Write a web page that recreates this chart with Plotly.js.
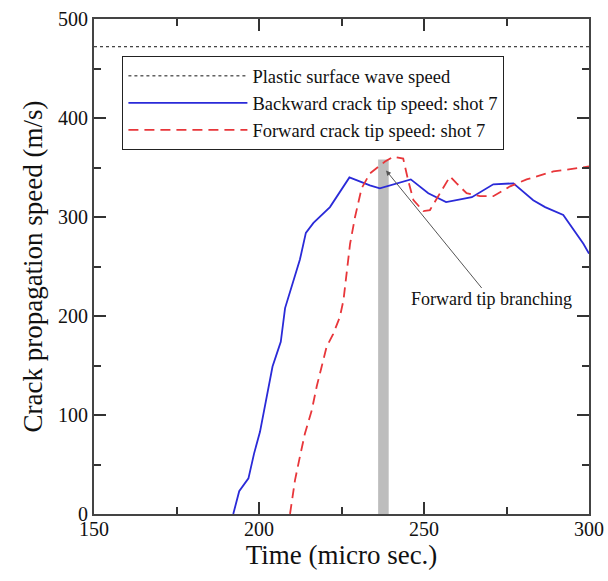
<!DOCTYPE html>
<html>
<head>
<meta charset="utf-8">
<script src="https://cdn.plot.ly/plotly-3.0.1.min.js"></script>
<style>html,body{margin:0;padding:0;background:#fff;}#chart{width:608px;height:581px;}</style>
</head>
<body>
<div id="chart"></div>
<script>
// Plastic surface wave speed (constant)
var waveTime = [150, 300];
var waveSpeed = [472, 472];

// Backward crack tip speed: shot 7
var backTime = [192.2, 194.0, 196.8, 198.5, 200.3, 202.8, 204.1, 205.4, 206.6, 207.9, 210.4, 212.4, 214.2, 216.5, 221.5, 227.4, 233.6, 236.6, 246.0, 251.3, 256.7, 264.5, 271.0, 277.1, 283.1, 286.7, 292.2, 298.3, 300];
var backSpeed = [0, 23, 36, 61, 83, 129, 149, 162, 174, 208, 235, 257, 284, 294, 310, 340, 332, 329, 338, 324, 315, 320, 333, 334, 317, 310, 302, 273, 263];

// Forward crack tip speed: shot 7
var fwdTime = [209.4, 210.9, 212.4, 213.9, 216.0, 217.5, 219.0, 220.5, 222.5, 224.5, 225.6, 226.6, 227.6, 229.1, 231.1, 233.6, 238.2, 240.7, 243.7, 245.2, 246.8, 249.8, 251.8, 254.3, 257.9, 259.9, 262.9, 267.0, 271.0, 276.1, 281.1, 289.2, 294.2, 300];
var fwdSpeed = [0, 34, 58, 81, 105, 129, 149, 169, 182, 199, 216, 246, 273, 300, 329, 344, 356, 361, 359, 337, 317, 306, 307, 321, 341, 334, 324, 321, 321, 331, 338, 346, 348, 351];

// Forward tip branching marker (grey band)
var branchTime = [237.7];
var branchSpeed = [358];
var branchWidth = [3.2];
var branchPoint = {time: 238.5, speed: 347};

// Axis ticks
var xTicks = [150, 200, 250, 300];
var yTicks = [0, 100, 200, 300, 400, 500];

var serif = 'Liberation Serif, Times New Roman, serif';

var traces = [
  {x: branchTime, y: branchSpeed, type: 'bar', width: branchWidth, marker: {color: '#bdbdbd', line: {width: 0}}, showlegend: false, hoverinfo: 'skip'},
  {x: waveTime, y: waveSpeed, mode: 'lines', name: 'Plastic surface wave speed', line: {color: '#111', width: 1, dash: 'dot'}},
  {x: backTime, y: backSpeed, mode: 'lines', name: 'Backward crack tip speed: shot 7', line: {color: '#2a2ad8', width: 1.8}},
  {x: fwdTime, y: fwdSpeed, mode: 'lines', name: 'Forward crack tip speed: shot 7', line: {color: '#e8363a', width: 1.8, dash: '10px,6px'}}
];

var layout = {
  width: 608, height: 581,
  margin: {l: 94, r: 19, t: 19, b: 67},
  paper_bgcolor: '#fff', plot_bgcolor: '#fff',
  font: {family: serif, color: '#111'},
  showlegend: true,
  xaxis: {
    range: [150, 300], tickmode: 'array', tickvals: xTicks,
    showgrid: false, zeroline: false, showline: true, linecolor: '#444', linewidth: 2,
    mirror: 'ticks', ticks: 'inside', ticklen: 12, tickwidth: 1.5, tickcolor: '#333',
    minor: {dtick: 25, ticks: 'inside', ticklen: 7, tickwidth: 1.5, tickcolor: '#333', showgrid: false},
    ticklabelstandoff: -4,
    tickfont: {family: serif, size: 20, color: '#111'},
    title: {text: 'Time (micro sec.)', font: {family: serif, size: 27, color: '#111'}, standoff: 6}
  },
  yaxis: {
    range: [0, 500], tickmode: 'array', tickvals: yTicks,
    showgrid: false, zeroline: false, showline: true, linecolor: '#444', linewidth: 2,
    mirror: 'ticks', ticks: 'inside', ticklen: 12, tickwidth: 1.5, tickcolor: '#333',
    minor: {dtick: 50, ticks: 'inside', ticklen: 7, tickwidth: 1.5, tickcolor: '#333', showgrid: false},
    tickfont: {family: serif, size: 20, color: '#111'},
    title: {text: 'Crack propagation speed (m/s)', font: {family: serif, size: 27, color: '#111'}, standoff: 8}
  },
  legend: {
    x: 1.02, y: 1, xanchor: 'left', yanchor: 'top',
    bgcolor: '#fff', bordercolor: '#222', borderwidth: 1.2,
    font: {family: serif, size: 18.5, color: '#111'},
    itemwidth: 119, tracegroupgap: 0
  },
  annotations: [{
    x: branchPoint.time, y: branchPoint.speed, xref: 'x', yref: 'y',
    ax: 105, ay: 129,
    text: 'Forward tip branching', showarrow: true,
    arrowhead: 2, arrowsize: 1, arrowwidth: 1, arrowcolor: '#555',
    font: {family: serif, size: 18, color: '#111'}
  }]
};

var gd = document.getElementById('chart');
Plotly.newPlot(gd, traces, layout, {displayModeBar: false}).then(function(){
  return Plotly.relayout(gd, {
    'legend.x': 0.057, 'legend.y': 0.925, 'legend.xanchor': 'left', 'legend.yanchor': 'top'
  });
});
</script>
</body>
</html>
